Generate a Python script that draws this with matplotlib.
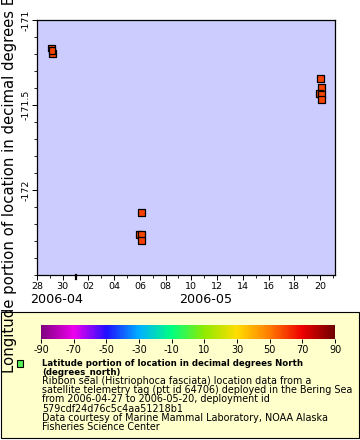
# -*- coding: utf-8 -*-
"""
Ribbon seal telemetry track: longitude vs time, coloured by latitude.
"""

import numpy as np
import pandas as pd
import matplotlib
matplotlib.use("Agg")
import matplotlib.pyplot as plt
import matplotlib.dates as mdates
import matplotlib.transforms as mtransforms
from matplotlib.colors import LinearSegmentedColormap, Normalize
from matplotlib.patches import Rectangle

plt.rcParams["axes.unicode_minus"] = False

# =============================================================================
# 1. DATA
# =============================================================================

times = [
    "2006-04-29 03:20", "2006-04-29 05:15", "2006-04-29 04:00",
    "2006-05-06 03:20", "2006-05-05 22:20", "2006-05-06 03:20", "2006-05-06 03:20",
    "2006-05-20 01:30", "2006-05-20 03:20", "2006-05-19 22:20", "2006-05-20 03:20",
    "2006-05-20 03:20",
]
longitudes = [
    -171.165, -171.195, -171.178,
    -172.133, -172.262, -172.263, -172.298,
    -171.345, -171.398, -171.431, -171.439,
    -171.469,
]
latitudes = [
    58.6, 58.7, 58.6,
    59.2, 59.0, 59.0, 59.1,
    58.4, 58.5, 58.5, 58.5,
    58.6,
]

x_range = ["2006-04-28 00:00", "2006-05-21 04:00"]
y_range = [-172.5, -171.0]
y_major = [-172.0, -171.5, -171.0]
y_minor = [-172.5, -172.4, -172.3, -172.2, -172.1, -172.0, -171.9, -171.8,
           -171.7, -171.6, -171.5, -171.4, -171.3, -171.2, -171.1, -171.0]

cbar_ticks = [-90, -70, -50, -30, -10, 10, 30, 50, 70, 90]
cbar_colors = ["#800080", "#ee00ee", "#2010ff", "#00b0ff", "#00ff80",
               "#90ea00", "#ffdd00", "#ff7c00", "#ee0000", "#700000"]

legend_title = ["Latitude portion of location in decimal degrees North",
                "(degrees_north)"]
legend_lines = [
    "Ribbon seal (Histriophoca fasciata) location data from a",
    "satellite telemetry tag (ptt id 64706) deployed in the Bering Sea",
    "from 2006-04-27 to 2006-05-20, deployment id",
    "579cdf24d76c5c4aa51218b1",
    "Data courtesy of Marine Mammal Laboratory, NOAA Alaska",
    "Fisheries Science Center",
]

# =============================================================================
# 2. STYLE
# =============================================================================

W, H = 360, 440
BG_PLOT = "#ccccff"
BG_LEGEND = "#ffffcc"

cmap = LinearSegmentedColormap.from_list(
    "erddap_rainbow",
    [((v + 90) / 180.0, c) for v, c in zip(cbar_ticks, cbar_colors)],
)
norm = Normalize(-90, 90)


def px(x0, y0, w, h):
    """pixel box (from top-left) -> figure fraction rect"""
    return [x0 / W, 1 - (y0 + h) / H, w / W, h / H]


# =============================================================================
# 3. PLOT
# =============================================================================

fig = plt.figure(figsize=(W / 100, H / 100), dpi=100, facecolor="white")

# legend box, kept behind the colorbar axes
fig.patches.append(Rectangle((0.5 / W, 1 - 438 / H), 358.5 / W, 126 / H,
                             transform=fig.transFigure, facecolor=BG_LEGEND,
                             edgecolor="black", linewidth=0.8, zorder=-5))

ax = fig.add_axes(px(37, 20, 298, 255))
ax.set_facecolor(BG_PLOT)

t = pd.to_datetime(times)
ax.scatter(t, longitudes, c=latitudes, cmap=cmap, norm=norm, marker="s",
           s=24, edgecolors="black", linewidths=0.9, zorder=3)

ax.set_xlim(pd.to_datetime(x_range[0]), pd.to_datetime(x_range[1]))
ax.set_ylim(*y_range)

ax.xaxis.set_major_locator(mdates.DayLocator(bymonthday=range(2, 32, 2)))
ax.xaxis.set_major_formatter(mdates.DateFormatter("%d"))
ax.xaxis.set_minor_locator(mdates.DayLocator())
ax.set_yticks(y_major)
ax.set_yticks(y_minor, minor=True)
ax.set_yticklabels([f"{v:g}" for v in y_major], rotation=90, va="center")

ax.tick_params(axis="both", which="major", direction="out", length=3.5,
               width=0.7, labelsize=6.8, pad=1.5)
ax.tick_params(axis="both", which="minor", direction="out", length=2,
               width=0.6)
for sp in ax.spines.values():
    sp.set_linewidth(0.9)

# month boundary tick and month labels
trans = mtransforms.blended_transform_factory(ax.transData, ax.transAxes)
may1 = mdates.date2num(pd.Timestamp("2006-05-01"))
ax.plot([may1, may1], [0, -0.017], transform=trans, color="black",
        lw=1.6, clip_on=False)
x0, x1 = ax.get_xlim()
ax.text((x0 + may1) / 2, -0.095, "2006-04", transform=trans, ha="center",
        va="center", fontsize=9.2)
ax.text((may1 + x1) / 2, -0.095, "2006-05", transform=trans, ha="center",
        va="center", fontsize=9.2)

fig.text(10 / W, 1 - 373 / H,
         "Longitude portion of location in decimal degrees East (degrees_east)",
         rotation=90, ha="center", va="bottom", fontsize=10.7, zorder=5)

# =============================================================================
# 4. COLORBAR + LEGEND TEXT
# =============================================================================

cax = fig.add_axes(px(41, 325, 294, 14))
cb = fig.colorbar(plt.cm.ScalarMappable(norm=norm, cmap=cmap), cax=cax,
                  orientation="horizontal", ticks=cbar_ticks)
cb.outline.set_visible(False)
cb.set_ticklabels([str(v) for v in cbar_ticks])
cax.tick_params(direction="out", length=3, width=0.7, labelsize=7, pad=1)

fig.patches.append(Rectangle((16.5 / W, 1 - 366.5 / H), 7 / W, 7 / H,
                             transform=fig.transFigure, facecolor="#55ee55",
                             edgecolor="black", linewidth=0.8, zorder=2))

y = 363
for line in legend_title:
    fig.text(42 / W, 1 - y / H, line, fontsize=6.2, fontweight="bold",
             va="center", ha="left")
    y += 9.1
for line in legend_lines:
    fig.text(42 / W, 1 - y / H, line, fontsize=6.9, va="center", ha="left")
    y += 9.1

fig.savefig("out.png", dpi=100, facecolor="white")
